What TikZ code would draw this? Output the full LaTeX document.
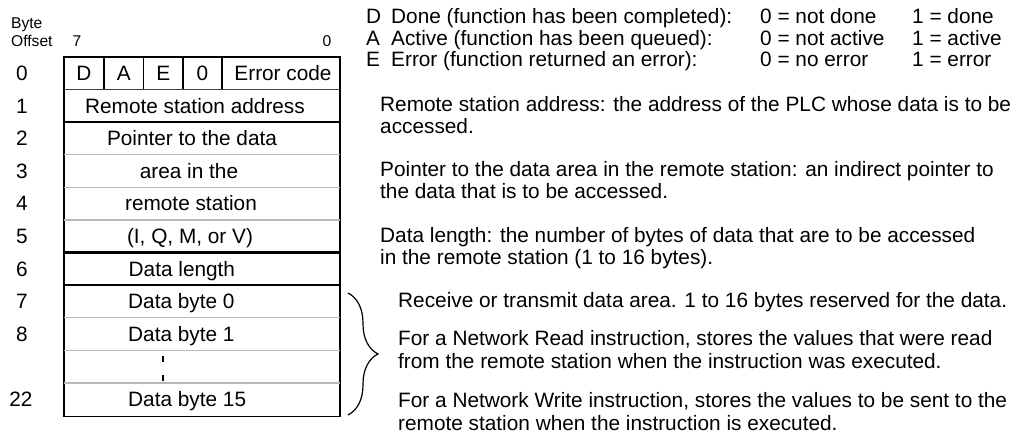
\documentclass[tikz,border=0pt]{standalone}
\usepackage{fontspec}
\setmainfont{Liberation Sans}
\usetikzlibrary{decorations.pathreplacing}
\newcommand\mainsize{\fontsize{20.8}{22}\selectfont}
\newcommand\hdrsize{\fontsize{15.6}{17}\selectfont}

\begin{document}
\begin{tikzpicture}[x=1pt,y=-1pt,
  txt/.style={font=\mainsize,inner sep=0pt,anchor=base},
  lft/.style={txt,anchor=base west},
  hdr/.style={font=\hdrsize,inner sep=0pt,anchor=base west},
  frame/.style={line width=1.5pt},
  thinsep/.style={gray!55,line width=1.3pt},
  thicksep/.style={line width=2.2pt},
]
  \useasboundingbox (0,0) rectangle (1018,438);

  % header
  \node[hdr] (byte) at (11,28.5) {Byte};
  \node[hdr] (offset) at (11,46.5) {Offset};
  \node[hdr,anchor=base] (bit7) at (77,46.5) {7};
  \node[hdr,anchor=base] (bit0) at (327,46.5) {0};

  % table frame and row lines
  \draw[frame] (64,57) rectangle (340,416.6);
  \foreach \x in {104,143.5,183,222} \draw[line width=1.2pt] (\x,57) -- (\x,89.6);
  \draw[black!75,line width=1.2pt] (64,89.6) -- (340,89.6);
  \foreach \y in {122.2,252.6,285.2} \draw[thicksep] (64,\y) -- (340,\y);
  \foreach \y in {154.8,187.4,220,317.8,350.4,383} \draw[thinsep] (64,\y) -- (340,\y);
  \draw[line width=1.2pt,dash pattern=on 6pt off 13pt] (163,356) -- (163,381);

  % byte offsets
  \node[txt] (off0) at (22,80.6) {0};
  \node[txt] (off1) at (22,113.2) {1};
  \node[txt] (off2) at (22,145.8) {2};
  \node[txt] (off3) at (22,178.4) {3};
  \node[txt] (off4) at (22,211) {4};
  \node[txt] (off5) at (22,243.6) {5};
  \node[txt] (off6) at (22,276.2) {6};
  \node[txt] (off7) at (22,308.8) {7};
  \node[txt] (off8) at (22,341.4) {8};
  \node[txt] (off22) at (21,406.6) {22};

  % table contents
  \node[txt] (bitD) at (84,80.6) {D};
  \node[txt] (bitA) at (123.7,80.6) {A};
  \node[txt] (bitE) at (163.2,80.6) {E};
  \node[txt] (bitZ) at (202.5,80.6) {0};
  \node[txt] (errcode) at (283,80.6) {Error code};
  \node[txt] (remaddr) at (195,113.2) {Remote station address};
  \node[txt] (ptrA) at (192,145.8) {Pointer to the data};
  \node[txt] (ptrB) at (189,178.4) {area in the};
  \node[txt] (ptrC) at (191,211) {remote station};
  \node[txt] (ptrD) at (190,243.6) {(I, Q, M, or V)};
  \node[lft] (datalen) at (128.5,276.2) {Data length};
  \node[lft] (dbyte0) at (128,308.8) {Data byte 0};
  \node[lft] (dbyte1) at (128,341.4) {Data byte 1};
  \node[lft] (dbyte15) at (128,406.6) {Data byte 15};

  % status bits
  \node[lft] (keyD) at (366,24) {D};
  \node[lft] (keyA) at (366,45.5) {A};
  \node[lft] (keyE) at (366,67) {E};
  \node[lft] (descD) at (391,24) {Done (function has been completed):};
  \node[lft] (descA) at (391,45.5) {Active (function has been queued):};
  \node[lft] (descE) at (391,67) {Error (function returned an error):};
  \node[lft] (zeroD) at (760,24) {0 = not done};
  \node[lft] (zeroA) at (760,45.5) {0 = not active};
  \node[lft] (zeroE) at (760,67) {0 = no error};
  \node[lft] (oneD) at (912,24) {1 = done};
  \node[lft] (oneA) at (912,45.5) {1 = active};
  \node[lft] (oneE) at (912,67) {1 = error};

  % field notes
  \node[lft] (noteaddr) at (380,112) {Remote station address: the address of the PLC whose data is to be};
  \node[lft] (noteaddrB) at (380,134) {accessed.};
  \node[lft] (noteptr) at (380,177) {Pointer to the data area in the remote station: an indirect pointer to};
  \node[lft] (noteptrB) at (380,199) {the data that is to be accessed.};
  \node[lft] (notelen) at (380,243) {Data length: the number of bytes of data that are to be accessed};
  \node[lft] (notelenB) at (380,265) {in the remote station (1 to 16 bytes).};
  \node[lft] (notebuf) at (398,308) {Receive or transmit data area. 1 to 16 bytes reserved for the data.};
  \node[lft] (noterd) at (398,346) {For a Network Read instruction, stores the values that were read};
  \node[lft] (noterdB) at (398,369) {from the remote station when the instruction was executed.};
  \node[lft] (notewr) at (398,407) {For a Network Write instruction, stores the values to be sent to the};
  \node[lft] (notewrB) at (398,430) {remote station when the instruction is executed.};

  % brace over the data bytes
  \coordinate (brtop) at (348,293);
  \coordinate (brbot) at (348,415);
  \draw[decorate,decoration={brace,amplitude=30pt},line width=1.2pt] (brtop) -- (brbot);
\end{tikzpicture}
\end{document}
